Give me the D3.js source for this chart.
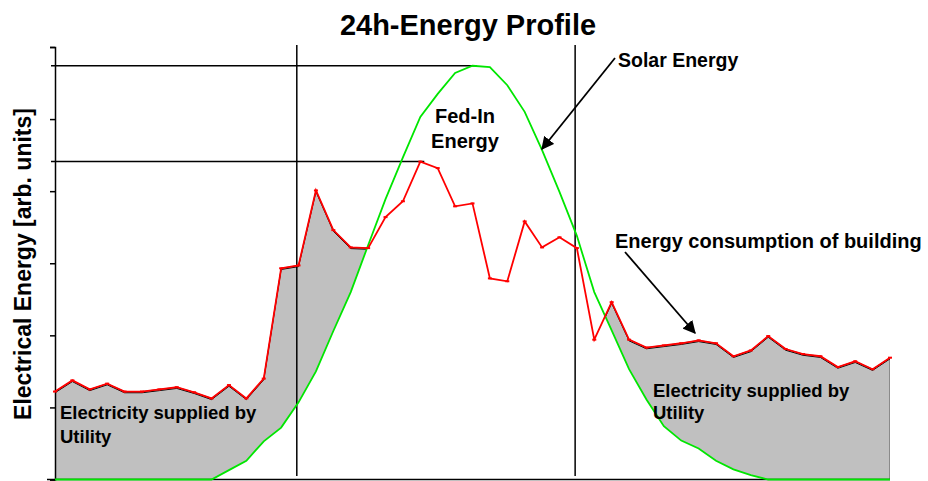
<!doctype html>
<html lang="en">
<head>
<meta charset="utf-8">
<title>24h-Energy Profile</title>
<script src="https://cdnjs.cloudflare.com/ajax/libs/d3/7.8.5/d3.min.js"></script>
<style>
  body { margin: 0; background: #fff; }
  svg { display: block; }
  text { font-family: "Liberation Sans", Arial, sans-serif; font-weight: bold; fill: #000; }
</style>
</head>
<body>
<script>

// half-hourly values, hour 0 .. 24
var hours = d3.range(0, 24.01, 0.5);

var consumption = [1.22, 1.375, 1.25, 1.33, 1.22, 1.22, 1.25, 1.28, 1.21, 1.125,
                   1.31, 1.125, 1.40, 2.93, 2.97, 4.01, 3.46, 3.22, 3.21, 3.64,
                   3.86, 4.41, 4.32, 3.79, 3.83, 2.79, 2.75, 3.58, 3.22, 3.36,
                   3.21, 1.94, 2.46, 1.94, 1.83, 1.86, 1.89, 1.93, 1.89, 1.71,
                   1.79, 1.99, 1.81, 1.74, 1.71, 1.56, 1.64, 1.53, 1.69];

var solar = [0, 0, 0, 0, 0, 0, 0, 0, 0, 0,
             0.13, 0.26, 0.53, 0.72, 1.07, 1.50, 2.06, 2.60, 3.25, 3.89,
             4.47, 5.03, 5.35, 5.64, 5.74, 5.72, 5.47, 5.10, 4.57, 3.99,
             3.38, 2.60, 2.07, 1.53, 1.11, 0.74, 0.54, 0.43, 0.26, 0.14,
             0.06, 0, 0, 0, 0, 0, 0, 0, 0];

var yTicks = [0, 1, 2, 3, 4, 5, 6];
var markerHours = [6.95, 14.95];

var width = 928, height = 481;
var plotLeft = 55, plotRight = 890, plotTop = 47, plotBottom = 479.5;

var x = d3.scaleLinear().domain([0, 24]).range([plotLeft, plotRight]);
var y = d3.scaleLinear().domain([0, 6]).range([plotBottom, plotTop]);

var data = hours.map(function(h, i) { return { h: h, c: consumption[i], s: solar[i] }; });

var svg = d3.select("body").append("svg")
    .attr("width", width)
    .attr("height", height);

var defs = svg.append("defs");

defs.append("marker")
    .attr("id", "arrow")
    .attr("viewBox", "0 0 10 10")
    .attr("refX", 9).attr("refY", 5)
    .attr("markerWidth", 13).attr("markerHeight", 13)
    .attr("markerUnits", "userSpaceOnUse")
    .attr("orient", "auto")
  .append("path")
    .attr("d", "M0,0L10,5L0,10z")
    .attr("fill", "#000");

// clip: everything above the solar curve
defs.append("clipPath")
    .attr("id", "aboveSolar")
  .append("path")
    .datum(data)
    .attr("d", d3.area()
        .x(function(d) { return x(d.h); })
        .y0(0)
        .y1(function(d) { return y(d.s); }));

// energy supplied by utility = consumption not covered by solar
var supply = svg.append("g").attr("clip-path", "url(#aboveSolar)");

supply.append("path")
    .datum(data)
    .attr("fill", "#c0c0c0")
    .attr("stroke", "#555")
    .attr("stroke-width", 1)
    .attr("d", d3.area()
        .x(function(d) { return x(d.h); })
        .y0(y(0))
        .y1(function(d) { return y(d.c); }));

supply.append("path")
    .datum(data)
    .attr("transform", "translate(0,1.2)")
    .attr("fill", "none")
    .attr("stroke", "#000")
    .attr("stroke-width", 1)
    .attr("d", d3.line()
        .x(function(d) { return x(d.h); })
        .y(function(d) { return y(d.c); }));

// axes
var yAxis = d3.axisLeft(y).tickValues(yTicks).tickSize(5).tickFormat("");
svg.append("g")
    .attr("transform", "translate(" + plotLeft + ",0)")
    .call(yAxis)
    .call(function(g) {
      g.select(".domain").attr("stroke", "#000").attr("stroke-width", 1.5);
      g.selectAll(".tick line").attr("stroke", "#000").attr("stroke-width", 1.5);
    });

svg.append("line")
    .attr("x1", plotLeft - 8).attr("x2", plotRight)
    .attr("y1", y(0)).attr("y2", y(0))
    .attr("stroke", "#000").attr("stroke-width", 1.5);

// peak guide lines
var cMax = d3.maxIndex(consumption), sMax = d3.maxIndex(solar);
[[sMax, solar], [cMax, consumption]].forEach(function(p) {
  svg.append("line")
      .attr("x1", plotLeft - 4).attr("x2", x(hours[p[0]]) + 4)
      .attr("y1", y(p[1][p[0]])).attr("y2", y(p[1][p[0]]))
      .attr("stroke", "#000").attr("stroke-width", 1.5);
});

svg.selectAll(".marker")
  .data(markerHours)
  .enter().append("line")
    .attr("class", "marker")
    .attr("x1", function(d) { return x(d); }).attr("x2", function(d) { return x(d); })
    .attr("y1", 45).attr("y2", 476)
    .attr("stroke", "#000").attr("stroke-width", 1.5);

// curves
svg.append("path")
    .datum(data)
    .attr("fill", "none")
    .attr("stroke", "#00e600")
    .attr("stroke-width", 1.8)
    .attr("d", d3.line()
        .x(function(d) { return x(d.h); })
        .y(function(d) { return y(d.s); }));

svg.append("path")
    .datum(data)
    .attr("fill", "none")
    .attr("stroke", "#ff0000")
    .attr("stroke-width", 1.8)
    .attr("d", d3.line()
        .x(function(d) { return x(d.h); })
        .y(function(d) { return y(d.c); }));

svg.selectAll(".pt")
  .data(data)
  .enter().append("rect")
    .attr("class", "pt")
    .attr("x", function(d) { return x(d.h) - 2; })
    .attr("y", function(d) { return y(d.c) - 1; })
    .attr("width", 4).attr("height", 2)
    .attr("fill", "#ff0000");

// texts
svg.append("text")
    .attr("x", 468).attr("y", 35)
    .attr("text-anchor", "middle")
    .style("font-size", "29px")
    .text("24h-Energy Profile");

svg.append("text")
    .attr("transform", "translate(31,264) rotate(-90)")
    .attr("text-anchor", "middle")
    .style("font-size", "23px")
    .text("Electrical Energy [arb. units]");

var fed = svg.append("text").attr("text-anchor", "middle").style("font-size", "20px");
fed.append("tspan").attr("x", 465).attr("y", 123).text("Fed-In");
fed.append("tspan").attr("x", 465).attr("y", 148).text("Energy");

svg.append("text")
    .attr("x", 618).attr("y", 67)
    .style("font-size", "19.5px")
    .text("Solar Energy");

svg.append("text")
    .attr("x", 615).attr("y", 248)
    .style("font-size", "20px")
    .text("Energy consumption of building");

var el = svg.append("text").style("font-size", "18.5px");
el.append("tspan").attr("x", 60).attr("y", 419).text("Electricity supplied by");
el.append("tspan").attr("x", 60).attr("y", 443).text("Utility");

var er = svg.append("text").style("font-size", "18.5px");
er.append("tspan").attr("x", 653).attr("y", 397).text("Electricity supplied by");
er.append("tspan").attr("x", 653).attr("y", 419).text("Utility");

// arrows
[[615, 58, 542, 149], [625, 252, 695, 333]].forEach(function(a) {
  svg.append("line")
      .attr("x1", a[0]).attr("y1", a[1])
      .attr("x2", a[2]).attr("y2", a[3])
      .attr("stroke", "#000").attr("stroke-width", 1.8)
      .attr("marker-end", "url(#arrow)");
});

</script>
</body>
</html>
